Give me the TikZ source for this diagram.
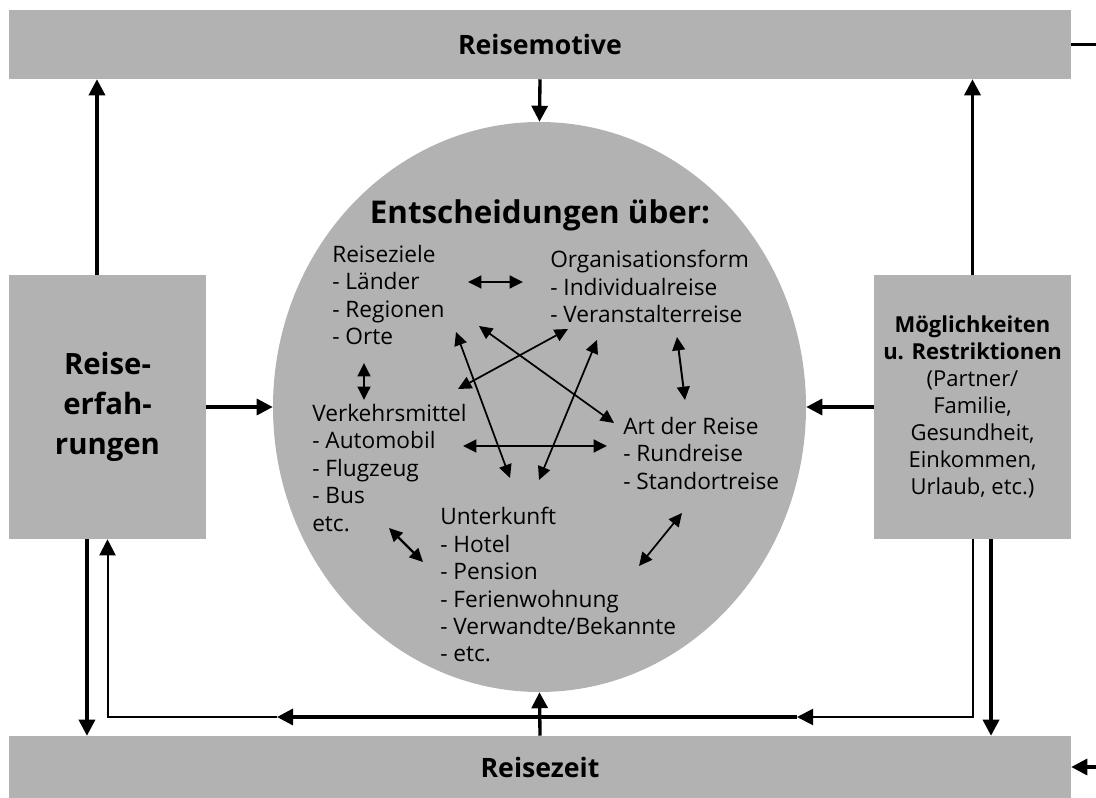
\documentclass[tikz,border=0pt]{standalone}
\usepackage{fontspec}
\setmainfont{Open Sans}
\usetikzlibrary{arrows.meta,positioning,calc,shapes.geometric}
\definecolor{ink}{RGB}{0,0,0}
\definecolor{panel}{RGB}{178,178,178}
\tikzset{
  every picture/.style={color=ink, x=0.75pt, y=-0.75pt},
  box/.style={fill=panel, draw=none, inner sep=0pt, align=center},
  title/.style={font=\fontsize{20}{30}\selectfont\bfseries},
  entry/.style={anchor=north west, inner sep=0pt, align=left, font=\fontsize{17}{20.6}\selectfont},
  flow/.style={-{Triangle[length=12pt,width=12pt]}, line width=2.5pt},
  back/.style={-{Triangle[length=12pt,width=12pt]}, line width=1.5pt},
  link/.style={{Triangle[length=10pt,width=9.5pt]}-{Triangle[length=10pt,width=9.5pt]}, line width=1.8pt},
  weak/.style={link, line width=1.3pt},
}

\begin{document}
\begin{tikzpicture}
  \useasboundingbox (0,0) rectangle (1096,798);

  % frame: motives on top, time at the bottom, the two side blocks
  \node[box, title, minimum width=796.5pt, minimum height=51.75pt] (motive) at (540,44.5) {Reisemotive};
  \node[box, title, minimum width=796.5pt, minimum height=46.5pt] (zeit) at (540,767) {Reisezeit};
  \node[box, font=\fontsize{22}{30}\selectfont\bfseries, minimum width=147.75pt, minimum height=198pt] (erf) at (107.5,407) {Reise-\\erfah-\\rungen};
  \node[box, minimum width=147.75pt, minimum height=198pt, font=\fontsize{16.5}{20.25}\selectfont] (lim) at (972.5,407)
    {\textbf{Möglichkeiten}\\\textbf{u. Restriktionen}\\(Partner/\\Familie,\\Gesundheit,\\Einkommen,\\Urlaub, etc.)};

  % decision disc
  \node[ellipse, fill=panel, inner sep=0pt, minimum width=399.75pt, minimum height=427.5pt] (dec) at (539.5,407) {};
  \node[anchor=base, font=\fontsize{23.5}{28}\selectfont\bfseries] (head) at (540,224) {Entscheidungen über:};
  \node[entry] (ziel) at (332,245) {Reiseziele\\- Länder\\- Regionen\\- Orte};
  \node[entry] (orga) at (550,250) {Organisationsform\\- Individualreise\\- Veranstalterreise};
  \node[entry] (verk) at (312,404) {Verkehrsmittel\\- Automobil\\- Flugzeug\\- Bus\\etc.};
  \node[entry] (art) at (623,417) {Art der Reise\\- Rundreise\\- Standortreise};
  \node[entry] (unter) at (440,507) {Unterkunft\\- Hotel\\- Pension\\- Ferienwohnung\\- Verwandte/Bekannte\\- etc.};

  % links between the decisions
  \coordinate (zo1) at (468,282); \coordinate (zo2) at (523,282);
  \coordinate (zv1) at (364,363); \coordinate (zv2) at (364,400);
  \coordinate (zu1) at (456,332); \coordinate (zu2) at (510,478);
  \coordinate (za1) at (479,326); \coordinate (za2) at (614,423);
  \coordinate (vo1) at (458,389); \coordinate (vo2) at (568,329);
  \coordinate (ou1) at (597,340); \coordinate (ou2) at (539,480);
  \coordinate (oa1) at (677,337); \coordinate (oa2) at (685,400);
  \coordinate (va1) at (463,446); \coordinate (va2) at (607,446);
  \coordinate (vu1) at (389,528); \coordinate (vu2) at (423,562);
  \coordinate (au1) at (682,513); \coordinate (au2) at (639,566);
  \draw[link] (zo1) -- (zo2);
  \draw[link] (zv1) -- (zv2);
  \draw[weak] (zu1) -- (zu2);
  \draw[weak] (za1) -- (za2);
  \draw[weak] (vo1) -- (vo2);
  \draw[weak] (ou1) -- (ou2);
  \draw[link, line width=1.5pt] (oa1) -- (oa2);
  \draw[link] (va1) -- (va2);
  \draw[link] (vu1) -- (vu2);
  \draw[weak] (au1) -- (au2);

  % outer arrows
  \draw[flow] (motive.south) -- (dec.north);
  \draw[flow] (zeit.north) -- (dec.south);
  \draw[flow] (erf.east) -- (dec.west);
  \draw[flow] (lim.west) -- (dec.east);
  \draw[flow] ([xshift=-7.9pt]erf.north) -- ([xshift=-7.9pt]erf.north |- motive.south);
  \draw[flow] (lim.north) -- (lim.north |- motive.south);
  \draw[flow] ([xshift=-15.4pt]erf.south) -- ([xshift=-15.4pt]erf.south |- zeit.north);
  \draw[flow] ([xshift=13.9pt]lim.south) -- ([xshift=13.9pt]lim.south |- zeit.north);
  \coordinate (out) at (1096,44.5);
  \coordinate (in) at (1096,767);
  \draw[line width=2.5pt] (motive.east) -- (out);
  \draw[flow] (in) -- (zeit.east);

  % feedback line under the disc
  \coordinate (fbR) at (972.5,717); \coordinate (fbA) at (797,717);
  \coordinate (fbB) at (277,717);   \coordinate (fbL) at (107.5,717);
  \draw[back] (lim.south) -- (fbR) -- (fbA);
  \draw[flow] (fbA) -- (fbB);
  \draw[back] (fbB) -- (fbL) -- (erf.south);
\end{tikzpicture}
\end{document}
